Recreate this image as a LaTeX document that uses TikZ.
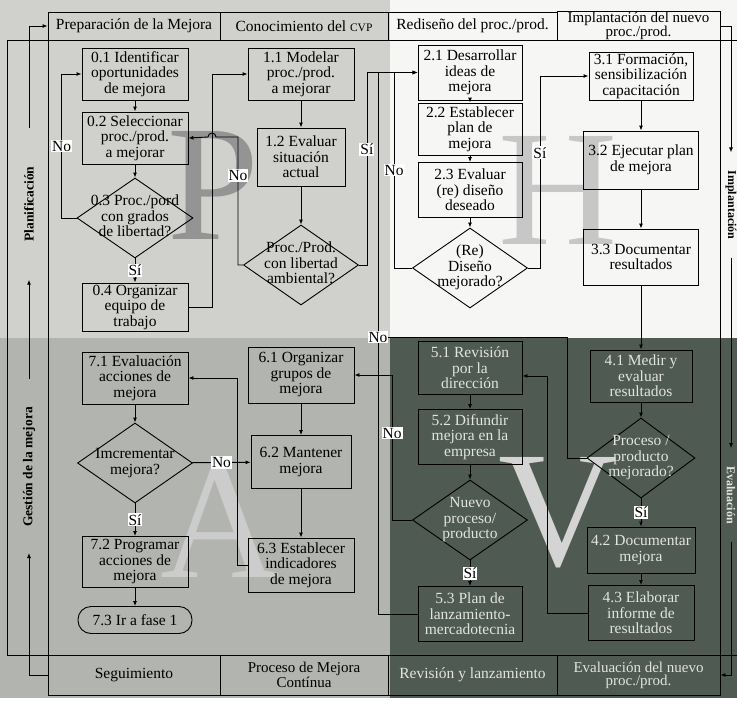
\documentclass[tikz,border=0pt]{standalone}
\usepackage{fontspec}
\setmainfont{Liberation Serif}
\usetikzlibrary{shapes.geometric,arrows.meta}

\definecolor{grisclaro}{RGB}{208,208,205}
\definecolor{grismedio}{RGB}{178,180,176}
\definecolor{oscuro}{RGB}{78,90,82}
\definecolor{blanco}{RGB}{246,246,244}
\definecolor{textoclaro}{RGB}{226,228,222}

% texto de los rombos (no cambia su tamano)
\newcommand{\txtrombo}[1]{\smash{\raisebox{-.25em}{\makebox[0pt]{\begin{tabular}{@{}c@{}}#1\end{tabular}}}}}

\tikzset{
  paso/.style={draw, line width=0.9pt, align=center, inner sep=1pt, minimum width=106pt, minimum height=52pt},
  pasoosc/.style={paso, text=textoclaro},
  decision/.style={diamond, draw, line width=0.9pt, inner sep=0pt, minimum width=115pt, minimum height=80pt},
  celda/.style={draw, line width=0.9pt, align=center, inner sep=0pt, minimum height=28pt},
  etiq/.style={fill=white, inner sep=1pt},
  flecha/.style={-{Latex[length=5pt,width=4pt]}, line width=0.9pt},
  linea/.style={line width=0.9pt},
  marca/.style={font=\fontsize{165}{165}\selectfont, inner sep=0pt},
  franja/.style={font=\bfseries\fontsize{13.5}{15}\selectfont, inner sep=0pt},
}

\begin{document}
\begin{tikzpicture}[x=1pt, y=-1pt, font=\fontsize{15.5}{15.5}\selectfont]

    \useasboundingbox (0,0) rectangle (737,707);

    % Fondos de los cuadrantes
    \fill[white] (0,0) rectangle (737,707);
    \fill[grisclaro] (0,0) rectangle (390,338);
    \fill[blanco] (390,0) rectangle (737,338);
    \fill[grismedio] (0,338) rectangle (390,698);
    \fill[oscuro] (390,338) rectangle (737,698);

    % Letras grandes del ciclo
    \node[marca, text=black!42] (letraP) at (213,185) {P};
    \node[marca, text=black!22] (letraH) at (558,190) {H};
    \node[marca, text=black!17] (letraV) at (558,513) {V};
    \node[marca, text=black!20] (letraA) at (220,523) {A};

    % Encabezados de las fases
    \node[celda, minimum width=172pt] (prep) at (134,26) {Preparación de la Mejora};
    \node[celda, minimum width=168pt] (conoc) at (304,26) {Conocimiento del {\fontsize{11.5}{12}\selectfont CVP}};
    \node[celda, minimum width=169pt] (redis) at (472.5,26) {Rediseño del proc./prod.};
    \node[celda, minimum width=163pt, font=\fontsize{15}{13}\selectfont] (impl) at (638.5,26) {Implantación del nuevo\\proc./prod.};

    \node[celda, minimum width=172pt, minimum height=40pt] (seg) at (134,675) {Seguimiento};
    \node[celda, minimum width=168pt, minimum height=40pt, font=\fontsize{15}{13}\selectfont] (pmc) at (304,675) {Proceso de Mejora\\Contínua};
    \node[celda, minimum width=169pt, minimum height=40pt, text=textoclaro] (revl) at (472.5,675) {Revisión y lanzamiento};
    \node[celda, minimum width=163pt, minimum height=40pt, text=textoclaro, font=\fontsize{15}{13}\selectfont] (evnu) at (638.5,675) {Evaluación del nuevo\\proc./prod.};

    % Marco y franjas laterales
    \draw[linea] (48,40) -- (7,40) -- (7,655) -- (48,655);
    \draw[linea] (48,40) -- (48,655);
    \draw[linea] (720,40) -- (720,655);
    \draw[linea] (720,40) -- (737,40);
    \draw[linea] (720,655) -- (737,655);

    \node[franja, rotate=90] (planif) at (29,204) {Planificación};
    \node[franja, rotate=90] (gestion) at (29,467) {Gestión de la mejora};
    \node[franja, rotate=-90, font=\bfseries\fontsize{12}{14}\selectfont] (implant) at (731,205) {Implantación};
    \node[franja, rotate=-90, font=\bfseries\fontsize{12}{14}\selectfont, text=textoclaro] (evalua) at (731,495) {Evaluación};

    \draw[flecha] (seg.west) -| ([yshift=-26pt]gestion.west);
    \draw[flecha] ([yshift=28pt]gestion.east) -- ([yshift=-38pt]planif.west);
    \draw[flecha] ([yshift=38pt]planif.east) |- (prep.west);
    \draw[flecha] (impl.east) -| ([yshift=18pt]implant.west);
    \draw[flecha] ([yshift=-18pt]implant.east) -- ([yshift=18pt]evalua.west);
    \draw[flecha] ([yshift=-18pt]evalua.east) |- (evnu.east);

    % Planificacion
    \node[paso] (n01) at (135,74) {0.1 Identificar\\oportunidades\\de mejora};
    \node[paso] (n02) at (135,138) {0.2 Seleccionar\\proc./prod.\\a mejorar};
    \node[decision, minimum width=116pt] (d03) at (135,218) {\txtrombo{0.3 Proc./pord\\con grados\\de libertad?}};
    \node[paso, minimum height=48pt] (n04) at (135,307) {0.4 Organizar\\equipo de\\trabajo};

    \node[paso] (n11) at (301,74) {1.1 Modelar\\proc./prod.\\a mejorar};
    \node[paso, minimum width=88pt, minimum height=58pt] (n12) at (301,157) {1.2 Evaluar\\situación\\actual};
    \node[decision] (d1) at (301,265) {\txtrombo{Proc./Prod.\\con libertad\\ambiental?}};

    % Hacer
    \node[paso, minimum width=104pt, minimum height=55pt] (n21) at (470,72.5) {2.1 Desarrollar\\ideas de\\mejora};
    \node[paso, minimum width=104pt] (n22) at (470,129) {2.2 Establecer\\plan de\\mejora};
    \node[paso, minimum width=104pt, minimum height=55pt] (n23) at (470,190) {2.3 Evaluar\\(re) diseño\\deseado};
    \node[decision] (dRe) at (470,268) {\txtrombo{(Re)\\Diseño\\mejorado?}};

    \node[paso, minimum width=104pt, minimum height=48pt] (n31) at (641,76) {3.1 Formación,\\sensibilización\\capacitación};
    \node[paso, minimum width=115pt, minimum height=58pt] (n32) at (641,160) {3.2 Ejecutar plan\\de mejora};
    \node[paso, minimum width=115pt, minimum height=56pt] (n33) at (641,257) {3.3 Documentar\\resultados};

    % Verificar
    \node[pasoosc, minimum width=102pt] (n41) at (641,376) {4.1 Medir y\\evaluar\\resultados};
    \node[decision, minimum width=108pt, text=textoclaro] (dProc) at (641,458) {\txtrombo{Proceso /\\producto\\mejorado?}};
    \node[pasoosc, minimum width=108pt, minimum height=46pt] (n42) at (641,550) {4.2 Documentar\\mejora};
    \node[pasoosc, minimum height=55pt] (n43) at (641,613) {4.3 Elaborar\\informe de\\resultados};

    \node[pasoosc, minimum width=104pt, minimum height=53pt] (n51) at (470,368) {5.1 Revisión\\por la\\dirección};
    \node[pasoosc, minimum width=104pt, minimum height=55pt] (n52) at (470,437) {5.2 Difundir\\mejora en la\\empresa};
    \node[decision, text=textoclaro] (dNuevo) at (470,520) {\txtrombo{Nuevo\\proceso/\\producto}};
    \node[pasoosc, minimum width=104pt, minimum height=55pt] (n53) at (470,614) {5.3 Plan de\\lanzamiento-\\mercadotecnia};

    % Actuar
    \node[paso, minimum height=56pt] (n61) at (301,375) {6.1 Organizar\\grupos de\\mejora};
    \node[paso, minimum width=100pt, minimum height=53pt] (n62) at (301,462) {6.2 Mantener\\mejora};
    \node[paso, minimum height=54pt] (n63) at (301,565) {6.3 Establecer\\indicadores\\de mejora};

    \node[paso] (n71) at (135,378) {7.1 Evaluación\\acciones de\\mejora};
    \node[decision] (dImcr) at (135,463) {\txtrombo{Imcrementar\\mejora?}};
    \node[paso, minimum height=51pt] (n72) at (135,562) {7.2 Programar\\acciones de\\mejora};
    \node[paso, rounded corners=13pt, minimum width=114pt, minimum height=27pt] (n73) at (135,620) {7.3 Ir a fase 1};

    % Flechas de la planificacion
    \draw[flecha] (n01) -- (n02);
    \draw[flecha] (n02) -- (d03);
    \draw[flecha] (d03) -- (n04) node[etiq, midway] {Sí};
    \draw[flecha] (d03.west) -- ++(-15,0) |- (n01.west) node[etiq, pos=0.25] {No};
    \draw[flecha] (n04.east) -- ++(24,0) |- (n11.west);
    \draw[flecha] (n11) -- (n12);
    \draw[flecha] (n12) -- (d1);
    \draw[flecha] (d1.west) -| (238,137) node[etiq, pos=0.85] {No}
        -- (216,137) arc[start angle=0, end angle=180, radius=4pt] -- (n02.east);
    \draw[flecha] (d1.east) -- ++(8,0) |- (n21.west) node[etiq, pos=0.3] {Sí};

    % Flechas del rediseno y la implantacion
    \draw[flecha] (n21) -- (n22);
    \draw[flecha] (n22) -- (n23);
    \draw[flecha] (n23) -- (dRe);
    \draw[flecha] (dRe.west) -- ++(-18,0) |- (n21.west) node[etiq, pos=0.25] {No};
    \draw[flecha] (dRe.east) -- ++(12,0) |- (n31.west) node[etiq, pos=0.3] {Sí};
    \draw[flecha] (n31) -- (n32);
    \draw[flecha] (n32) -- (n33);
    \draw[flecha] (n33) -- (n41);

    % Flechas de la evaluacion
    \draw[flecha] (n41) -- (dProc);
    \draw[flecha] (dProc) -- (n42) node[etiq, midway] {Sí};
    \draw[flecha] (n42) -- (n43);
    \draw[linea] (n53.west) -| (378,337);
    \draw[flecha] (dProc.west) -- ++(-19,0) |- (378,337) node[etiq] {No} |- (n21.west);
    \draw[flecha] (n43.west) -- ++(-40,0) |- ([yshift=-8pt]n51.east);
    \draw[flecha] (n51) -- (n52);
    \draw[flecha] (n52) -- (dNuevo);
    \draw[flecha] (dNuevo) -- (n53) node[etiq, midway] {Sí};
    \draw[flecha] (dNuevo.west) -- ++(-20,0) |- (n61.east) node[etiq, pos=0.3] {No};

    % Flechas del seguimiento
    \draw[flecha] (n61) -- (n62);
    \draw[flecha] (n62) -- (n63);
    \draw[flecha] (n63.west) -- ++(-10,0) |- (n71.east);
    \draw[flecha] (n71) -- (dImcr);
    \draw[flecha] (dImcr) -- (n62) node[etiq, midway] {No};
    \draw[flecha] (dImcr) -- (n72) node[etiq, midway] {Sí};
    \draw[flecha] (n72) -- (n73);

\end{tikzpicture}
\end{document}
